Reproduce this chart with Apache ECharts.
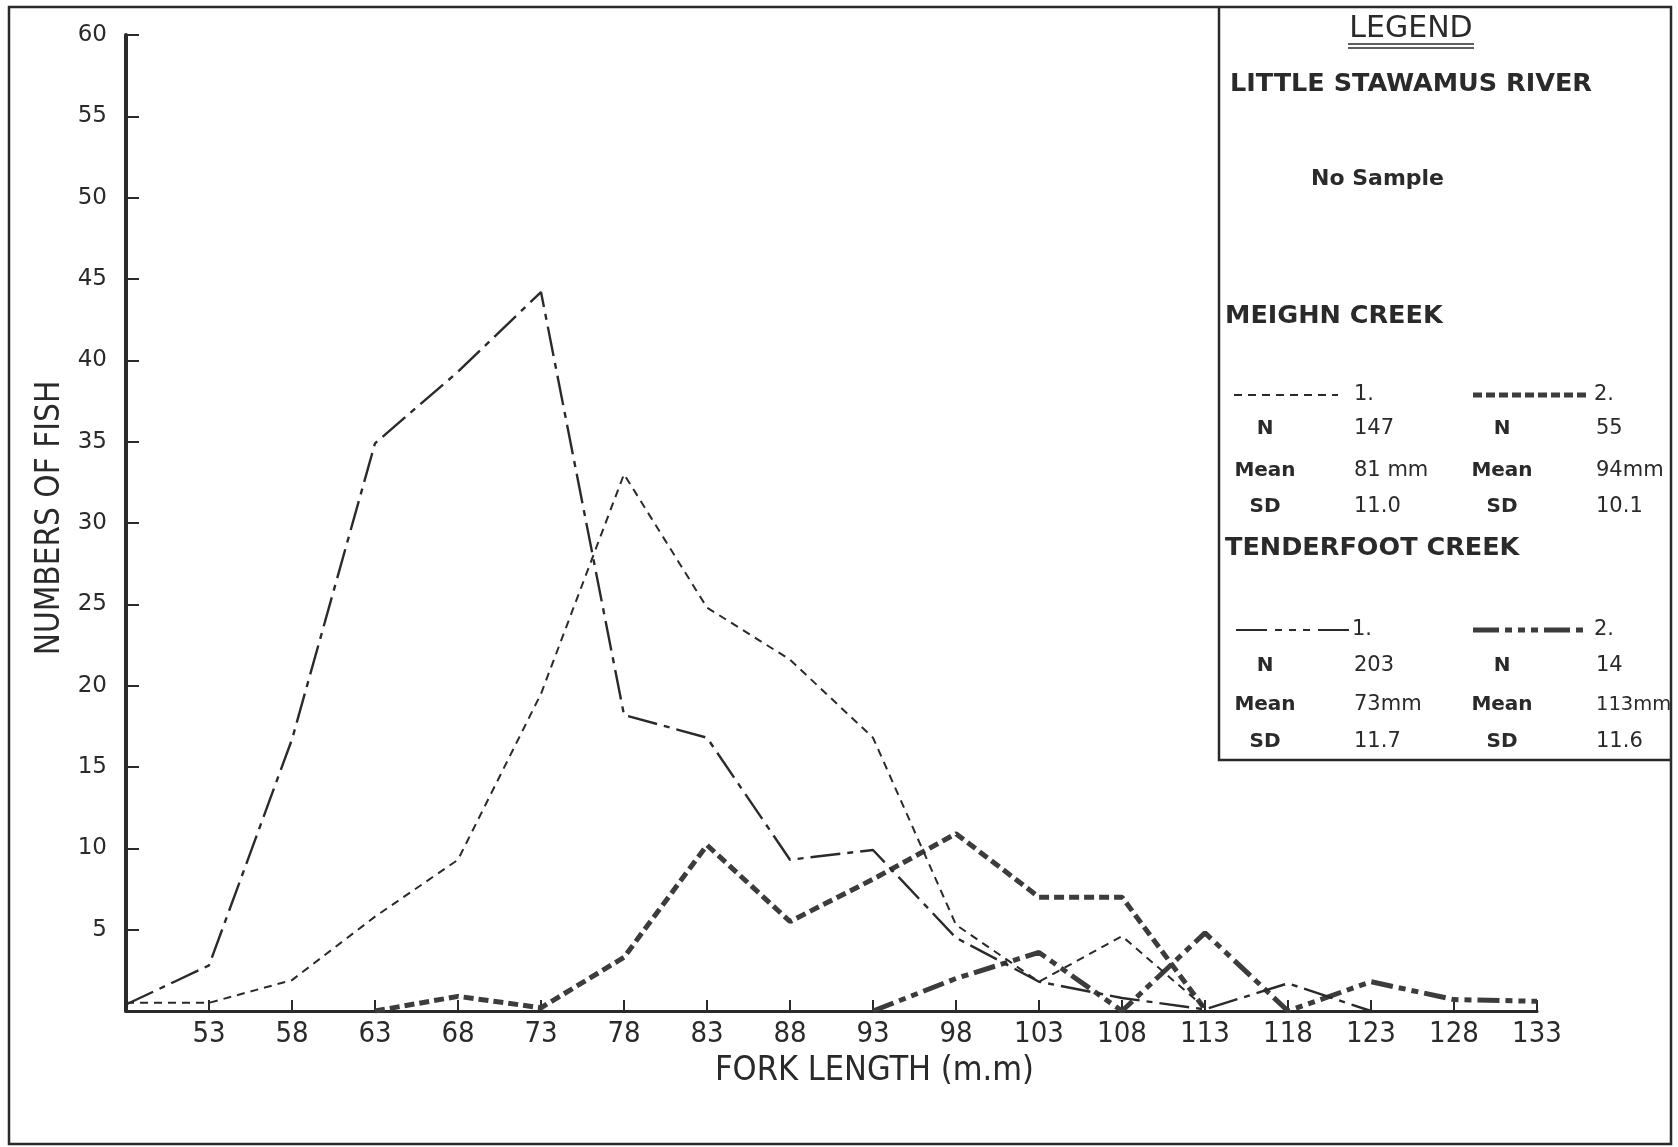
<!DOCTYPE html>
<html><head><meta charset="utf-8">
<script src="https://cdn.jsdelivr.net/npm/echarts@6/dist/echarts.min.js"></script>
<style>html,body{margin:0;padding:0;background:#fff}#c{width:1678px;height:1147px}</style>
</head><body><div id="c"></div>
<script>
// ---- data ----
const forkLength = [48,53,58,63,68,73,78,83,88,93,98,103,108,113,118,123,128,133];
const meighn1   = [0.5,0.5,1.9,5.8,9.3,19.5,33,24.8,21.6,16.8,5.3,1.8,4.6,0.2,null,null,null,null];
const meighn2   = [null,null,null,0,0.9,0.2,3.3,10.2,5.5,8.1,10.9,7,7,0.1,null,null,null,null];
const tender1   = [0.4,2.8,16.7,34.9,39.3,44.2,18.2,16.8,9.3,9.9,4.5,1.8,0.8,0.1,1.7,0,null,null];
const tender2   = [null,null,null,null,null,null,null,null,null,0,2,3.6,0,4.8,0,1.8,0.7,0.6];
const yTickLabels = [5,10,15,20,25,30,35,40,45,50,55,60];
const statRowLabels = ['N','Mean','SD'];
const meighn1Stats = ['147','81 mm','11.0'];
const meighn2Stats = ['55','94mm','10.1'];
const tender1Stats = ['203','73mm','11.7'];
const tender2Stats = ['14','113mm','11.6'];

const ink = '#2a2a2a';
const pair = arr => forkLength.map((x,i)=>[x, arr[i]==null ? '-' : arr[i]]);
const narrow = '"Liberation Sans Narrow","DejaVu Sans Condensed","Roboto Condensed",Roboto,sans-serif';
const wide = '"DejaVu Sans",sans-serif';

const chart = echarts.init(document.getElementById('c'), null, {renderer:'canvas'});

const g = [];
// outer frame
g.push({type:'rect', shape:{x:9,y:7,width:1662,height:1137}, style:{fill:null, stroke:ink, lineWidth:2.5}, silent:true});
// legend box
g.push({type:'polyline', shape:{points:[[1219,7],[1219,760],[1671,760]]}, style:{fill:null, stroke:ink, lineWidth:2.5}});
function txt(t,x,y,size,opt){
  opt = opt||{};
  g.push({type:'text', x:x, y:y, style:{text:t, fill:ink, fontSize:size, fontFamily:opt.family||wide,
    fontWeight:opt.weight||'normal', textAlign:opt.align||'left', textVerticalAlign:'middle'}});
}
function sample(x1,x2,y,w,dash,color){
  g.push({type:'line', shape:{x1:x1,y1:y,x2:x2,y2:y}, style:{stroke:color||ink, lineWidth:w, lineDash:dash}});
}
txt('LEGEND',1411,29,30,{align:'center'});
sample(1348,1474,44,1.6,null); sample(1348,1474,48,1.6,null);
txt('LITTLE STAWAMUS RIVER',1230,84,25.5,{weight:'bold'});
txt('No Sample',1311,179,22,{weight:'bold'});
txt('MEIGHN CREEK',1225,316,25.5,{weight:'bold'});
sample(1234,1338,395,2,[8,6]); txt('1.',1354,395,21);
sample(1473,1586,395,5,[9,4],'#3c3c3c'); txt('2.',1594,395,21);
const rowY1=[429,471,507], rowY2=[666,705,742];
statRowLabels.forEach((l,i)=>{
  txt(l,1265,rowY1[i],20,{align:'center',weight:'bold'}); txt(meighn1Stats[i],1354,rowY1[i],21);
  txt(l,1502,rowY1[i],20,{align:'center',weight:'bold'}); txt(meighn2Stats[i],1596,rowY1[i],21);
  txt(l,1265,rowY2[i],20,{align:'center',weight:'bold'}); txt(tender1Stats[i],1354,rowY2[i],21);
  txt(l,1502,rowY2[i],20,{align:'center',weight:'bold'});
  txt(tender2Stats[i],1596,rowY2[i],tender2Stats[i].length>4 ? 19.5 : 21);
});
txt('TENDERFOOT CREEK',1225,548,25.5,{weight:'bold'});
sample(1236,1351,630,2.2,[31,8,7,7,7,7,7,8]); txt('1.',1352,630,21);
sample(1473,1586,630,5,[26,6,7,6,7,6,7,6],'#3c3c3c'); txt('2.',1594,630,21);

const option = {
  animation:false,
  backgroundColor:'#fff',
  grid:{left:126, right:141, top:35, bottom:136},
  xAxis:{
    type:'value', min:48, max:133, interval:5,
    name:'FORK LENGTH (m.m)', nameLocation:'middle', nameGap:41,
    nameTextStyle:{fontFamily:narrow, fontSize:34, color:ink, padding:[0,0,0,86]},
    axisLine:{onZero:false, lineStyle:{color:ink, width:3}},
    axisTick:{inside:true, length:11, lineStyle:{color:ink, width:2}},
    axisLabel:{margin:9, fontFamily:narrow, fontSize:29, color:ink,
      formatter:v=> (forkLength.indexOf(v)>0 ? String(v) : '')},
    splitLine:{show:false}
  },
  yAxis:{
    type:'value', min:0, max:60, interval:5,
    name:'NUMBERS OF FISH', nameLocation:'middle', nameGap:55,
    nameTextStyle:{fontFamily:narrow, fontSize:33, color:ink, padding:[0,0,0,10]},
    axisLine:{onZero:false, lineStyle:{color:ink, width:4}},
    axisTick:{inside:true, length:13, lineStyle:{color:ink, width:2}},
    axisLabel:{margin:19, fontFamily:wide, fontSize:23, color:ink,
      formatter:v=> (yTickLabels.indexOf(v)>=0 ? String(v) : '')},
    splitLine:{show:false}
  },
  series:[
    {name:'Meighn Creek 1', type:'line', data:pair(meighn1), symbol:'none', connectNulls:false,
      lineStyle:{color:ink, width:2, type:[8,6]}, z:3},
    {name:'Meighn Creek 2', type:'line', data:pair(meighn2), symbol:'none', connectNulls:false,
      lineStyle:{color:'#3c3c3c', width:5, type:[10,5]}, z:2},
    {name:'Tenderfoot Creek 1', type:'line', data:pair(tender1), symbol:'none', connectNulls:false,
      lineStyle:{color:ink, width:2.4, type:[30,7,6,7]}, z:4},
    {name:'Tenderfoot Creek 2', type:'line', data:pair(tender2), symbol:'none', connectNulls:false,
      lineStyle:{color:'#3c3c3c', width:5, type:[22,6,7,6,7,6]}, z:2}
  ],
  graphic:g
};
chart.setOption(option);
</script></body></html>
